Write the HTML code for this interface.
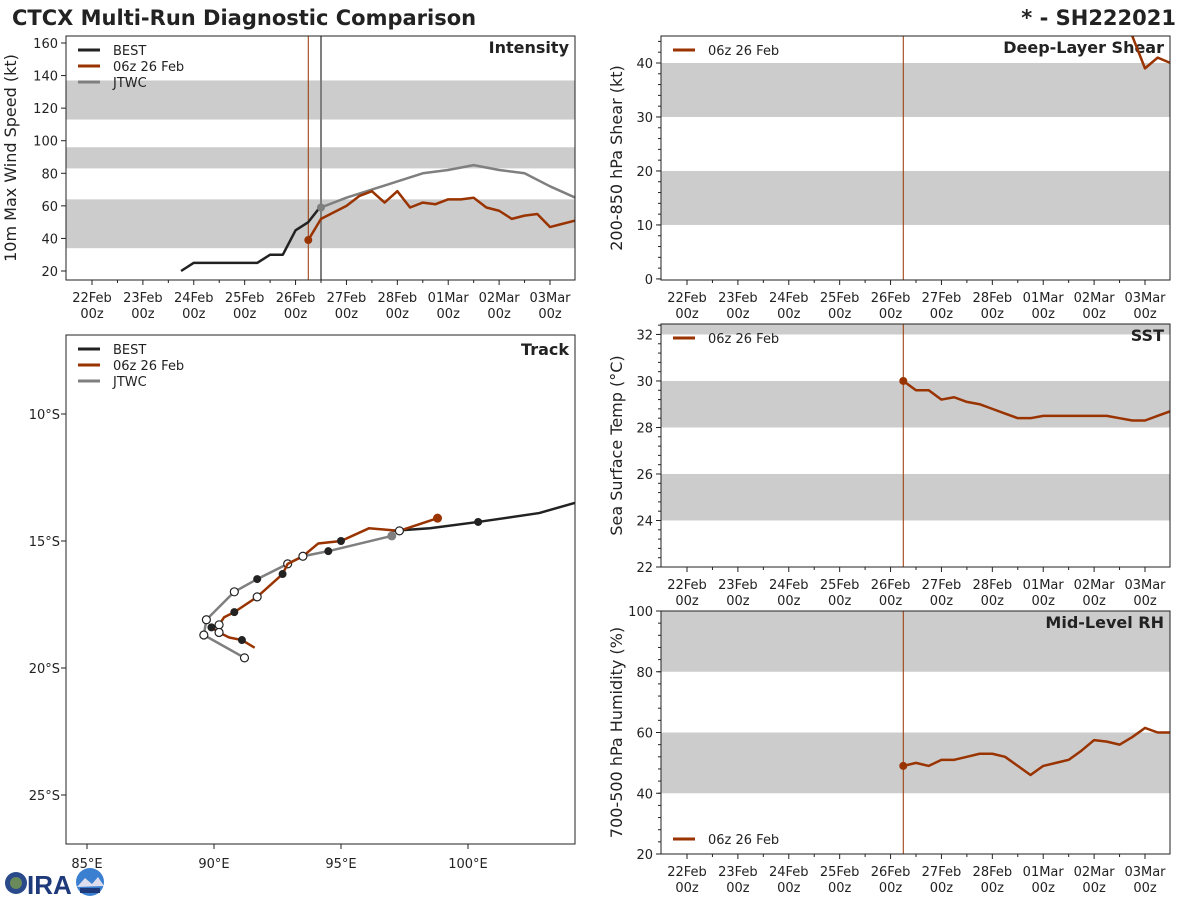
<!DOCTYPE html>
<html><head><meta charset="utf-8"><style>
body{margin:0;background:#fff;}
svg{display:block;font-family:"DejaVu Sans","Liberation Sans",sans-serif;}
</style></head><body>
<svg id="c" width="1200" height="900" viewBox="0 0 1200 900" xmlns="http://www.w3.org/2000/svg">
<text x="12" y="25" font-size="21" font-weight="bold" fill="#222">CTCX Multi-Run Diagnostic Comparison</text>
<text x="1176" y="25" font-size="21" font-weight="bold" fill="#222" text-anchor="end">* - SH222021</text>
<g>
<circle cx="16" cy="883" r="11" fill="#2a4a8a"/><circle cx="16" cy="883" r="6" fill="#6a8a5a"/>
<text x="27" y="894" font-size="26" font-weight="bold" fill="#1f3a7a" font-family="Liberation Sans,sans-serif">IRA</text>
<circle cx="90" cy="882" r="14" fill="#3a7fd0"/><path d="M77 887 L85 878 L92 884 L98 877 L104 886 Z" fill="#dde"/><rect x="80" y="888" width="20" height="5" fill="#1f3a7a"/>
</g>
</svg>
<script>
const NS='http://www.w3.org/2000/svg';
const svg=document.getElementById('c');
function mk(tag,attrs,parent){const e=document.createElementNS(NS,tag);for(const k in attrs)e.setAttribute(k,attrs[k]);(parent||svg).appendChild(e);return e;}
const ORANGE='#993300',BLACK='#222',GREY='#7f7f7f';

// ---- data ----
const dateLabels=['22Feb','23Feb','24Feb','25Feb','26Feb','27Feb','28Feb','01Mar','02Mar','03Mar'];
const bestHours=[42,48,54,60,66,72,78,84,90,96,102,108];
const bestVmax=[20,25,25,25,25,25,25,30,30,45,50,60];
const fcstHours=[102,108,114,120,126,132,138,144,150,156,162,168,174,180,186,192,198,204,210,216,222,228];
const fcstVmax=[39,52,56,60,66,69,62,69,59,62,61,64,64,65,59,57,52,54,55,47,49,51];
const jtwcHours=[108,120,132,144,156,168,180,192,204,216,228];
const jtwcVmax=[59,65,70,75,80,82,85,82,80,72,65];
const shearHours=[204,210,216,222,228];
const shearVals=[50,45,39,41,40];
const sstVals=[30.0,29.6,29.6,29.2,29.3,29.1,29.0,28.8,28.6,28.4,28.4,28.5,28.5,28.5,28.5,28.5,28.5,28.4,28.3,28.3,28.5,28.7];
const rhVals=[49,50,49,51,51,52,53,53,52,49,46,49,50,51,54,57.5,57,56,58.5,61.5,60,60];
const bestLon=[104.2,102.8,100.4,98.5,97.0];
const bestLat=[-13.5,-13.9,-14.25,-14.5,-14.6];
const fcLon=[98.8,97.3,96.1,95.0,94.1,93.5,92.9,92.7,91.7,90.8,90.4,90.2,89.9,90.2,90.6,91.1,91.6];
const fcLat=[-14.1,-14.6,-14.5,-15.0,-15.1,-15.6,-15.9,-16.3,-17.2,-17.8,-18.0,-18.3,-18.4,-18.6,-18.8,-18.9,-19.2];
const fcMark=['s','w','','b','','w','','b','w','b','','w','b','w','','b',''];
const jtLon=[97.0,94.5,93.5,92.9,91.7,90.8,89.7,89.6,91.2];
const jtLat=[-14.8,-15.4,-15.6,-15.9,-16.5,-17.0,-18.1,-18.7,-19.6];
const jtMark=['s','b','','w','b','w','w','w','w'];
const lonTicks=[85,90,95,100];
const latTicks=[-10,-15,-20,-25];

function panel(o){
  const g=mk('g',{});
  
  
  const xs=h=>o.x0+(o.x1-o.x0)*(h-o.hmin)/(o.hmax-o.hmin);
  const ys=v=>o.y1-(o.y1-o.y0)*(v-o.vmin)/(o.vmax-o.vmin);
  o.bands.forEach(b=>{const top=Math.min(b[1],o.vmax);const r=mk('rect',{x:o.x0,y:ys(top),width:o.x1-o.x0,height:ys(b[0])-ys(top),fill:'#cccccc'},g);
    });
  o.yt.forEach(v=>{mk('line',{x1:o.x0-5,x2:o.x0,y1:ys(v),y2:ys(v),stroke:'#222'},g);
    const t=mk('text',{x:o.x0-8,y:ys(v)+5,'font-size':13,'text-anchor':'end',fill:'#222'},g);t.textContent=v;
    });
  if(o.minor)o.minor.forEach(v=>mk('line',{x1:o.x0-3,x2:o.x0,y1:ys(v),y2:ys(v),stroke:'#222'},g));
  for(let d=0;d<10;d++){const x=xs(d*24);mk('line',{x1:x,x2:x,y1:o.y1,y2:o.y1+5,stroke:'#222'},g);
    const t=mk('text',{x:x,y:o.y1+22,'font-size':13,'text-anchor':'middle',fill:'#222'},g);t.textContent=dateLabels[d];
    
    const t2=mk('text',{x:x,y:o.y1+38,'font-size':13,'text-anchor':'middle',fill:'#222'},g);t2.textContent='00z';}
  for(let h=12;h<240;h+=24){const x=xs(h);if(x<o.x1)mk('line',{x1:x,x2:x,y1:o.y1,y2:o.y1+3,stroke:'#222'},g);}
  const yl=mk('text',{transform:`translate(${o.ylx},${(o.y0+o.y1)/2}) rotate(-90)`,'font-size':16,'text-anchor':'middle',fill:'#222'},g);yl.textContent=o.ylabel;
  
  const tt=mk('text',{x:o.x1-6,y:o.y0+17,'font-size':16,'font-weight':'bold','text-anchor':'end',fill:'#222'},g);tt.textContent=o.title;
  
  const cid='clip'+o.name;const cp=mk('clipPath',{id:cid},g);mk('rect',{x:o.x0,y:o.y0,width:o.x1-o.x0,height:o.y1-o.y0},cp);
  const inner=mk('g',{'clip-path':`url(#${cid})`},g);
  mk('line',{x1:xs(102),x2:xs(102),y1:o.y0,y2:o.y1,stroke:ORANGE,'stroke-width':1},inner);
  if(o.pre)o.pre(inner,xs,ys);
  o.series.forEach(s=>{const pts=s.h.map((h,i)=>xs(h)+','+ys(s.v[i])).join(' ');
    const p=mk('polyline',{points:pts,fill:'none',stroke:s.c,'stroke-width':2.5,'stroke-linejoin':'round'},inner);
    
    if(s.dot){mk('circle',{cx:xs(s.h[0]),cy:ys(s.v[0]),r:4,fill:s.c},inner);}});
  mk('rect',{x:o.x0,y:o.y0,width:o.x1-o.x0,height:o.y1-o.y0,fill:'none',stroke:'#222','stroke-width':1},g);
  return {g,xs,ys,inner};
}
function legend(g,x,y,items){items.forEach((it,i)=>{mk('line',{x1:x,x2:x+22,y1:y+i*16,y2:y+i*16,stroke:it[1],'stroke-width':3},g);
  const t=mk('text',{x:x+35,y:y+i*16+5,'font-size':13,fill:'#222'},g);t.textContent=it[0];
  });}
function pan(o){const hmin=-26*216/458,hmax=hmin+509*216/458;return panel(Object.assign(o,{hmin,hmax}));}

const i1=pan({name:'intensity-panel',x0:66,x1:575,y0:36,y1:280,vmin:20-9/1.6286,vmax:160+7/1.6286,ylabel:'10m Max Wind Speed (kt)',ylx:16,title:'Intensity',
 bands:[[34,64],[83,96],[113,137]],yt:[20,40,60,80,100,120,140,160],
 pre:(inner,xs,ys)=>{mk('line',{x1:xs(108),x2:xs(108),y1:36,y2:280,stroke:GREY,'stroke-width':2},inner);},
 series:[{n:'best-intensity-line',h:bestHours,v:bestVmax,c:BLACK},{n:'jtwc-intensity-line',h:jtwcHours,v:jtwcVmax,c:GREY},{n:'forecast-intensity-line',h:fcstHours,v:fcstVmax,c:ORANGE,dot:true}]});
legend(i1.g,78,50,[['BEST',BLACK],['06z 26 Feb',ORANGE],['JTWC',GREY]]);
mk('circle',{cx:i1.xs(108),cy:i1.ys(59),r:4,fill:GREY},i1.inner);

const minor=(a,b,s)=>{const r=[];for(let v=a;v<=b;v+=s)r.push(v);return r;};
const s1=pan({name:'shear-panel',x0:661,x1:1170,y0:36,y1:280,vmin:-0.2,vmax:45,ylabel:'200-850 hPa Shear (kt)',ylx:622,title:'Deep-Layer Shear',
 bands:[[10,20],[30,40]],yt:[0,10,20,30,40],minor:minor(0,44,2),
 series:[{n:'shear-line',h:shearHours,v:shearVals,c:ORANGE}]});
legend(s1.g,673,50,[['06z 26 Feb',ORANGE]]);
const sst=pan({name:'sst-panel',x0:661,x1:1170,y0:324,y1:567,vmin:22,vmax:32.45,ylabel:'Sea Surface Temp (°C)',ylx:622,title:'SST',
 bands:[[24,26],[28,30],[32,34]],yt:[22,24,26,28,30,32],minor:minor(22,32.4,0.4),
 series:[{n:'sst-line',h:fcstHours,v:sstVals,c:ORANGE,dot:true}]});
legend(sst.g,673,338,[['06z 26 Feb',ORANGE]]);
const rh=pan({name:'rh-panel',x0:661,x1:1170,y0:611,y1:854,vmin:20,vmax:100,ylabel:'700-500 hPa Humidity (%)',ylx:622,title:'Mid-Level RH',
 bands:[[40,60],[80,100]],yt:[20,40,60,80,100],minor:minor(20,100,4),
 series:[{n:'rh-line',h:fcstHours,v:rhVals,c:ORANGE,dot:true}]});
legend(rh.g,673,839,[['06z 26 Feb',ORANGE]]);

// Track
const tg=mk('g',{});


const TX0=66,TX1=575,TY0=335,TY1=844;
const lx=l=>87+(l-85)*25.4, ly=l=>414+(-l-10)*25.4;
mk('rect',{x:TX0,y:TY0,width:TX1-TX0,height:TY1-TY0,fill:'#fff',stroke:'#222'},tg);
lonTicks.forEach(l=>{mk('line',{x1:lx(l),x2:lx(l),y1:TY1,y2:TY1+5,stroke:'#222'},tg);
 const t=mk('text',{x:lx(l),y:TY1+24,'font-size':13,'text-anchor':'middle',fill:'#222'},tg);t.textContent=l+'°E';
 });
latTicks.forEach(l=>{mk('line',{x1:TX0-5,x2:TX0,y1:ly(l),y2:ly(l),stroke:'#222'},tg);
 const t=mk('text',{x:TX0-6,y:ly(l)+5,'font-size':13,'text-anchor':'end',fill:'#222'},tg);t.textContent=(-l)+'°S';
 });
const tcl=mk('clipPath',{id:'tclip'},tg);mk('rect',{x:TX0,y:TY0,width:TX1-TX0,height:TY1-TY0},tcl);
const ti=mk('g',{'clip-path':'url(#tclip)'},tg);
function track(lon,lat,c,name,marks){const p=mk('polyline',{points:lon.map((l,i)=>lx(l)+','+ly(lat[i])).join(' '),fill:'none',stroke:c,'stroke-width':2.5,'stroke-linejoin':'round'},ti);
 
 if(marks)marks.forEach((m,i)=>{if(!m)return;const at={cx:lx(lon[i]),cy:ly(lat[i]),r:4};
  if(m==='s'){at.fill=c;at.r=4.5;}else if(m==='b'){at.fill=BLACK;}else{at.fill='#fff';at.stroke=BLACK;at['stroke-width']=1.2;}
  mk('circle',at,ti);});}
track(bestLon,bestLat,BLACK,'best-track',null);
mk('circle',{cx:lx(bestLon[2]),cy:ly(bestLat[2]),r:4,fill:BLACK},ti);
track(jtLon,jtLat,GREY,'jtwc-track',jtMark);
track(fcLon,fcLat,ORANGE,'forecast-track',fcMark);
mk('rect',{x:TX0,y:TY0,width:TX1-TX0,height:TY1-TY0,fill:'none',stroke:'#222'},tg);
const tt=mk('text',{x:TX1-6,y:TY0+20,'font-size':16,'font-weight':'bold','text-anchor':'end',fill:'#222'},tg);tt.textContent='Track';

legend(tg,78,349,[['BEST',BLACK],['06z 26 Feb',ORANGE],['JTWC',GREY]]);
</script>
</body></html>
